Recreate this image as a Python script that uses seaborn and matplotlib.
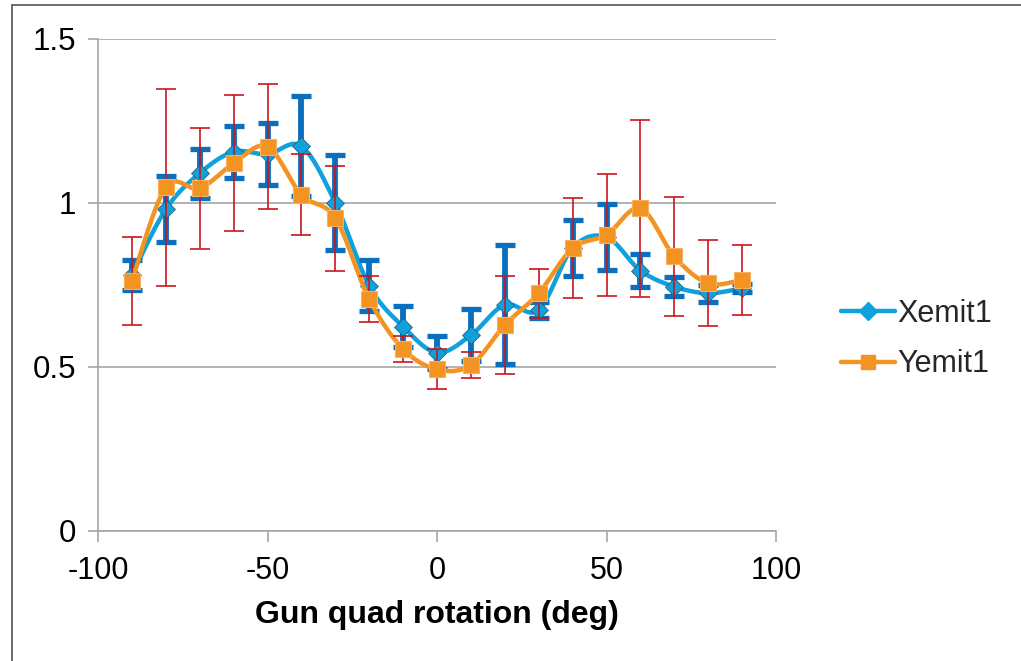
import numpy as np
import pandas as pd
import matplotlib
matplotlib.use("Agg")
import matplotlib.pyplot as plt
import seaborn as sns
from matplotlib.lines import Line2D

# Emittance vs gun quad rotation
rotation_deg = [-90, -80, -70, -60, -50, -40, -30, -20, -10, 0,
                10, 20, 30, 40, 50, 60, 70, 80, 90]
xemit1 = [0.780, 0.980, 1.090, 1.155, 1.148, 1.172, 1.000, 0.747, 0.622, 0.543,
          0.596, 0.689, 0.673, 0.862, 0.895, 0.793, 0.744, 0.724, 0.739]
xemit1_err = [0.045, 0.100, 0.075, 0.080, 0.094, 0.152, 0.145, 0.077, 0.063, 0.050,
              0.080, 0.181, 0.025, 0.085, 0.100, 0.050, 0.028, 0.026, 0.012]
yemit1 = [0.762, 1.047, 1.044, 1.120, 1.171, 1.024, 0.953, 0.706, 0.554, 0.492,
          0.505, 0.627, 0.724, 0.861, 0.902, 0.983, 0.836, 0.754, 0.765]
yemit1_err = [0.134, 0.300, 0.185, 0.207, 0.190, 0.123, 0.160, 0.070, 0.040, 0.061,
              0.040, 0.149, 0.075, 0.153, 0.187, 0.270, 0.181, 0.131, 0.107]
series_names = ["Xemit1", "Yemit1"]
x_ticks = [-100, -50, 0, 50, 100]
y_ticks = [0, 0.5, 1, 1.5]
y_tick_labels = ["0", "0.5", "1", "1.5"]
x_label = "Gun quad rotation (deg)"

BLUE = "#0EA1DB"
BLUE_ERR = "#0A6FBE"
ORANGE = "#F39322"
RED_ERR = "#C8171E"
GRID = "#A6A6A6"


def smooth_curve(x, y, n=40):
    """Cubic Bezier spline through the points (spreadsheet-style smoothed line)."""
    pts = np.column_stack([x, y]).astype(float)
    P = np.vstack([pts[0], pts, pts[-1]])
    t = np.linspace(0, 1, n)[:, None]
    parts = []
    for i in range(1, len(P) - 2):
        p0, p1, p2, p3 = P[i - 1], P[i], P[i + 1], P[i + 2]
        c1 = p1 + (p2 - p0) / 6.0
        c2 = p2 - (p3 - p1) / 6.0
        seg = ((1 - t) ** 3) * p1 + 3 * ((1 - t) ** 2) * t * c1 \
            + 3 * (1 - t) * (t ** 2) * c2 + (t ** 3) * p2
        parts.append(seg if i == 1 else seg[1:])
    s = np.vstack(parts)
    return s[:, 0], s[:, 1]


sns.set_theme(style="white")
plt.rcParams["font.family"] = ["Liberation Sans", "DejaVu Sans"]

df = pd.DataFrame({"rot": rotation_deg, "x": xemit1, "xe": xemit1_err,
                   "y": yemit1, "ye": yemit1_err})

fig = plt.figure(figsize=(10.21, 6.61), dpi=100)
ax = fig.add_axes([98 / 1021, 1 - 530.7 / 661, (776 - 98) / 1021, (530.7 - 38.7) / 661])

# Blue series: smoothed line, error bars, markers
sx, sy = smooth_curve(df["rot"], df["x"])
sns.lineplot(x=sx, y=sy, sort=False, estimator=None, color=BLUE, lw=3.2, ax=ax, zorder=2)
ax.errorbar(df["rot"], df["x"], yerr=df["xe"], fmt="none", ecolor=BLUE_ERR,
            elinewidth=4.2, capsize=7, capthick=3.8, zorder=3)
ax.plot(df["rot"], df["x"], ls="none", marker="D", ms=9.5, mfc=BLUE,
        mec="#2b5670", mew=0.5, zorder=4)

# Orange series: smoothed line, error bars, markers
ox, oy = smooth_curve(df["rot"], df["y"])
sns.lineplot(x=ox, y=oy, sort=False, estimator=None, color=ORANGE, lw=3.2, ax=ax, zorder=5)
ax.errorbar(df["rot"], df["y"], yerr=df["ye"], fmt="none", ecolor=RED_ERR,
            elinewidth=1.2, capsize=7, capthick=1.2, zorder=6)
ax.plot(df["rot"], df["y"], ls="none", marker="s", ms=11, mfc=ORANGE,
        mec="#F7B060", mew=0.8, zorder=7)

ax.set_xlim(-100, 100)
ax.set_ylim(0, 1.5)
ax.set_xticks(x_ticks)
ax.set_xticklabels([str(v) for v in x_ticks])
ax.set_yticks(y_ticks)
ax.set_yticklabels(y_tick_labels)
ax.yaxis.grid(True, color=GRID, lw=1.2)
ax.xaxis.grid(False)
ax.set_axisbelow(True)
for side in ["top", "right"]:
    ax.spines[side].set_visible(False)
for side in ["left", "bottom"]:
    ax.spines[side].set_color(GRID)
    ax.spines[side].set_linewidth(1.2)
ax.tick_params(axis="x", direction="out", length=8, width=1.2, color=GRID,
               labelsize=22, pad=10, labelcolor="black", bottom=True)
ax.tick_params(axis="y", direction="out", length=7, width=1.2, color=GRID,
               labelsize=22.5, pad=9, labelcolor="black", left=True)
ax.set_xlabel(x_label, fontsize=23, fontweight="bold", labelpad=10, color="black")
ax.set_ylabel("")

handles = [
    Line2D([], [], color=BLUE, lw=3.2, marker="D", ms=9, mfc=BLUE, mec=BLUE),
    Line2D([], [], color=ORANGE, lw=3.2, marker="s", ms=10, mfc=ORANGE, mec=ORANGE),
]
fig.legend(handles, series_names, loc="center left", bbox_to_anchor=(0.797, 0.487),
           frameon=False, fontsize=22, handlelength=1.75, handletextpad=0.08,
           labelspacing=0.68)

# Chart-area border (top and left edges)
fig.add_artist(Line2D([12 / 1021, 12 / 1021], [0, 1 - 5 / 661], transform=fig.transFigure,
                      color="#606060", lw=1.3))
fig.add_artist(Line2D([12 / 1021, 1], [1 - 5 / 661, 1 - 5 / 661], transform=fig.transFigure,
                      color="#606060", lw=1.3))

fig.savefig("out.png", dpi=100, facecolor="white")
